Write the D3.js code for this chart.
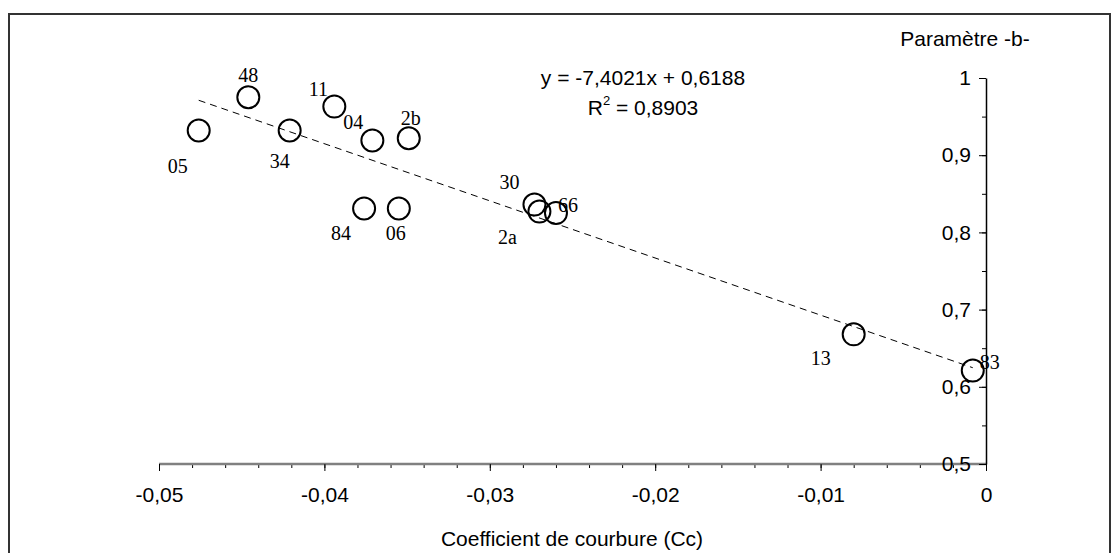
<!DOCTYPE html>
<html>
<head>
<meta charset="utf-8">
<script src="https://cdn.jsdelivr.net/npm/d3@7"></script>
<style>
  body { margin: 0; background: #fff; }
  svg text { font-family: "Liberation Sans", Arial, sans-serif; }
</style>
</head>
<body>
<div id="chart"></div>
<script>
// sample names and values
const names = ["05", "48", "34", "11", "04", "2b", "84", "06", "30", "2a", "66", "13", "83"];
const ccValues = [-0.0476, -0.0446, -0.0421, -0.0394, -0.0371, -0.0349, -0.0376, -0.0355, -0.0273, -0.0270, -0.0260, -0.0080, -0.0008];
const bValues = [0.932, 0.975, 0.932, 0.963, 0.919, 0.922, 0.831, 0.831, 0.836, 0.827, 0.825, 0.668, 0.621];

// regression y = a x + b
const slope = -7.4021;
const intercept = 0.6188;
const equationText = "y = -7,4021x + 0,6188";
const r2Value = "0,8903";

const xTicks = [-0.05, -0.04, -0.03, -0.02, -0.01, 0];
const yTicks = [0.5, 0.6, 0.7, 0.8, 0.9, 1];

// label placement, px offset from circle centre
const labelOffsets = {
  "05": [-21, 36], "48": [0, -22], "34": [-10, 31], "11": [-16, -18],
  "04": [-19, -19], "2b": [2, -20], "84": [-23, 25], "06": [-3, 25],
  "30": [-25, -23], "2a": [-32, 25], "66": [12, -8], "13": [-33, 24], "83": [17, -9]
};

const width = 1117;
const height = 553;
const fontSize = "21px";

const svg = d3.select("#chart")
    .append("svg")
    .attr("width", width)
    .attr("height", height);

// outer frame
svg.append("rect")
    .attr("x", 9).attr("y", 14)
    .attr("width", 1101).attr("height", 560)
    .attr("fill", "none")
    .attr("stroke", "#333")
    .attr("stroke-width", 2);

const x = d3.scaleLinear().domain([-0.05, 0]).range([159, 986]);
const y = d3.scaleLinear().domain([0.5, 1]).range([464, 78]);

// comma decimals, plain hyphen for minus
const fmt = d => String(+d.toFixed(3)).replace(".", ",");

// X axis: gray line, ticks down
const xAxis = svg.append("g")
    .attr("transform", "translate(0,464)");
xAxis.call(d3.axisBottom(x).tickValues(d3.range(-0.05, 0.0001, 0.002)).tickSize(4).tickFormat(""));
xAxis.selectAll(".tick line").attr("stroke", "#000");
xAxis.select(".domain").remove();
xAxis.append("line")
    .attr("x1", x(-0.05)).attr("x2", x(0))
    .attr("stroke", "#808080").attr("stroke-width", 2.5);
const xMajor = svg.append("g").attr("transform", "translate(0,464)")
    .call(d3.axisBottom(x).tickValues(xTicks).tickSize(7).tickFormat(fmt));
xMajor.select(".domain").remove();
xMajor.selectAll(".tick text")
    .attr("y", 31).attr("dy", "0.35em")
    .style("font-size", fontSize).attr("fill", "#000");

// Y axis on the right side, ticks pointing left
const yMinor = svg.append("g").attr("transform", "translate(986,0)")
    .call(d3.axisLeft(y).tickValues(d3.range(0.5, 1.0001, 0.05)).tickSize(4).tickFormat(""));
yMinor.select(".domain").remove();
const yAxis = svg.append("g").attr("transform", "translate(986,0)")
    .call(d3.axisLeft(y).tickValues(yTicks).tickSize(7).tickSizeOuter(0).tickFormat(fmt));
yAxis.select(".domain").attr("stroke", "#000").attr("stroke-width", 1.5);
yAxis.selectAll(".tick text")
    .attr("x", -15)
    .style("font-size", fontSize).attr("fill", "#000");

// trend line over the data range
const xMin = d3.min(ccValues), xMax = d3.max(ccValues);
svg.append("line")
    .attr("x1", x(xMin)).attr("y1", y(slope * xMin + intercept))
    .attr("x2", x(xMax)).attr("y2", y(slope * xMax + intercept))
    .attr("stroke", "#000")
    .attr("stroke-width", 1)
    .attr("stroke-dasharray", "7,5");

const points = names.map((n, i) => ({ name: n, cc: ccValues[i], b: bValues[i] }));

svg.selectAll(".pt")
    .data(points)
    .enter()
    .append("circle")
    .attr("class", "pt")
    .attr("cx", d => x(d.cc))
    .attr("cy", d => y(d.b))
    .attr("r", 11)
    .attr("fill", "none")
    .attr("stroke", "#000")
    .attr("stroke-width", 2);

svg.selectAll(".lbl")
    .data(points)
    .enter()
    .append("text")
    .attr("class", "lbl")
    .attr("x", d => x(d.cc) + labelOffsets[d.name][0])
    .attr("y", d => y(d.b) + labelOffsets[d.name][1])
    .attr("text-anchor", "middle")
    .attr("dominant-baseline", "central")
    .style("font-family", "'Liberation Serif', 'Times New Roman', serif")
    .style("font-size", "20px")
    .text(d => d.name);

// equation and R²
svg.append("text")
    .attr("x", 643).attr("y", 77)
    .attr("text-anchor", "middle").attr("dominant-baseline", "central")
    .style("font-size", fontSize)
    .text(equationText);
const r2 = svg.append("text")
    .attr("x", 643).attr("y", 107)
    .attr("text-anchor", "middle").attr("dominant-baseline", "central")
    .style("font-size", fontSize);
r2.append("tspan").text("R");
r2.append("tspan").attr("dy", -7).style("font-size", "13px").text("2");
r2.append("tspan").attr("dy", 7).text(" = " + r2Value);

// axis titles
svg.append("text")
    .attr("x", 965).attr("y", 38)
    .attr("text-anchor", "middle").attr("dominant-baseline", "central")
    .style("font-size", fontSize)
    .text("Paramètre -b-");
svg.append("text")
    .attr("x", 572).attr("y", 538)
    .attr("text-anchor", "middle").attr("dominant-baseline", "central")
    .style("font-size", fontSize)
    .text("Coefficient de courbure (Cc)");
</script>
</body>
</html>
